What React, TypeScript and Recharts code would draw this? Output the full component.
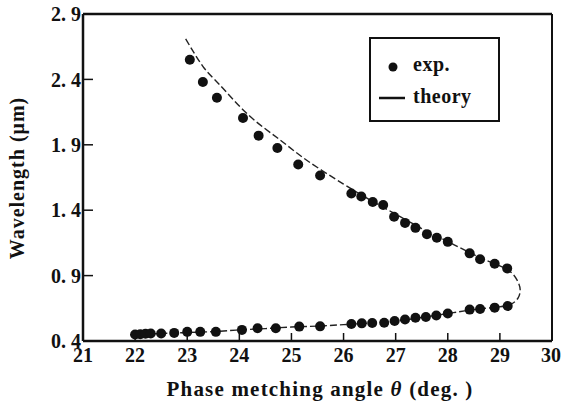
import {
  ComposedChart,
  Scatter,
  Line,
  XAxis,
  YAxis,
  ReferenceLine,
  Label,
} from "recharts";

const xTicks = [21, 22, 23, 24, 25, 26, 27, 28, 29, 30];
const yTicks = [0.4, 0.9, 1.4, 1.9, 2.4, 2.9];

// measured points, upper (idler) branch
const upperTheta = [
  23.05, 23.3, 23.57, 24.07, 24.37, 24.73, 25.13, 25.55, 26.15, 26.34, 26.56,
  26.76, 26.97, 27.18, 27.38, 27.6, 27.79, 28.0, 28.42, 28.62, 28.9, 29.14,
];
const upperWave = [
  2.55, 2.38, 2.26, 2.105, 1.97, 1.875, 1.75, 1.665, 1.527, 1.505, 1.463,
  1.44, 1.35, 1.303, 1.265, 1.217, 1.19, 1.158, 1.07, 1.025, 0.99, 0.955,
];

// measured points, lower (signal) branch
const lowerTheta = [
  22.0, 22.1, 22.2, 22.3, 22.5, 22.75, 23.0, 23.25, 23.55, 24.05, 24.35, 24.7,
  25.15, 25.55, 26.15, 26.35, 26.55, 26.78, 26.98, 27.18, 27.38, 27.58, 27.78,
  28.0, 28.42, 28.62, 28.9, 29.15,
];
const lowerWave = [
  0.45, 0.452, 0.455, 0.457, 0.458, 0.462, 0.47, 0.47, 0.47, 0.485, 0.497,
  0.497, 0.51, 0.512, 0.53, 0.535, 0.537, 0.54, 0.553, 0.565, 0.578, 0.583,
  0.595, 0.61, 0.64, 0.645, 0.655, 0.667,
];

// theory curve, traced from the top end round the turning point
const theoryTheta = [
  22.97, 23.3, 23.62, 24.17, 24.74, 25.3, 26.0, 26.5, 27.0, 27.5, 28.0, 28.5,
  28.9, 29.2, 29.35, 29.39, 29.35, 29.2, 28.9, 28.5, 28.0, 27.5, 27.0, 26.5,
  26.0, 25.5, 25.0, 24.5, 24.0, 23.5, 23.0, 22.5, 22.0, 21.85,
];
const theoryWave = [
  2.71, 2.5, 2.36, 2.13, 1.95, 1.78, 1.6, 1.48, 1.37, 1.26, 1.16, 1.06, 0.99,
  0.93, 0.85, 0.79, 0.73, 0.68, 0.657, 0.64, 0.61, 0.58, 0.553, 0.537, 0.525,
  0.514, 0.507, 0.495, 0.485, 0.472, 0.465, 0.457, 0.449, 0.445,
];

const expData = [
  ...upperTheta.map((x, i) => ({ x, y: upperWave[i] })),
  ...lowerTheta.map((x, i) => ({ x, y: lowerWave[i] })),
];
const theoryData = theoryTheta.map((x, i) => ({ x, y: theoryWave[i] }));

const FONT = "'Liberation Serif', 'DejaVu Serif', serif";
const tickStyle = { fill: "#111", fontSize: 20, fontFamily: FONT, fontWeight: 700 };

const LegendBox = () => (
  <div
    style={{
      position: "absolute",
      left: 369,
      top: 37,
      width: 127,
      height: 81,
      border: "2px solid #111",
      fontFamily: FONT,
      fontSize: 20,
      fontWeight: 700,
      color: "#111",
      letterSpacing: 0.5,
    }}
  >
    <svg width={30} height={70} style={{ position: "absolute", left: 6, top: 8 }}>
      <circle cx={16} cy={20} r={4.5} fill="#111" />
      <line x1={2} x2={28} y1={51} y2={51} stroke="#111" strokeWidth={2.5} />
    </svg>
    <span style={{ position: "absolute", left: 42, top: 14 }}>exp.</span>
    <span style={{ position: "absolute", left: 42, top: 46 }}>theory</span>
  </div>
);

export default function App() {
  return (
    <div style={{ position: "fixed", left: 0, top: 0, width: 561, height: 404, background: "#fff" }}>
      <ComposedChart
        width={561}
        height={404}
        margin={{ top: 14, right: 9, bottom: 33, left: 42 }}
      >
        <XAxis
          type="number"
          dataKey="x"
          domain={[21, 30]}
          ticks={xTicks}
          height={30}
          tickSize={-8}
          tickMargin={15}
          tick={tickStyle}
          axisLine={{ stroke: "#111", strokeWidth: 2.5 }}
          tickLine={{ stroke: "#111", strokeWidth: 1.5 }}
          allowDataOverflow
        >
          <Label
            content={() => (
              <text
                x={320}
                y={396}
                textAnchor="middle"
                fontFamily={FONT}
                fontSize={21}
                fontWeight={700}
                letterSpacing={1.2}
                fill="#111"
              >
                Phase metching angle <tspan fontStyle="italic">θ</tspan> (deg. )
              </text>
            )}
          />
        </XAxis>
        <YAxis
          type="number"
          dataKey="y"
          domain={[0.4, 2.9]}
          ticks={yTicks}
          width={41}
          tickSize={-10}
          tickMargin={12}
          tick={tickStyle}
          tickFormatter={(v: number) => v.toFixed(1).replace(".", ". ")}
          axisLine={{ stroke: "#111", strokeWidth: 2.5 }}
          tickLine={{ stroke: "#111", strokeWidth: 1.5 }}
          allowDataOverflow
        >
          <Label
            content={() => (
              <text
                x={0}
                y={0}
                transform="translate(24 178) rotate(-90)"
                textAnchor="middle"
                fontFamily={FONT}
                fontSize={20}
                fontWeight={700}
                letterSpacing={1}
                fill="#111"
              >
                Wavelength (μm)
              </text>
            )}
          />
        </YAxis>
        <ReferenceLine y={2.9} stroke="#111" strokeWidth={2.5} />
        <ReferenceLine x={30} stroke="#111" strokeWidth={2} />
        <Line
          data={theoryData}
          dataKey="y"
          type="natural"
          stroke="#222"
          strokeWidth={1.4}
          strokeDasharray="7 3"
          dot={false}
          isAnimationActive={false}
        />
        <Scatter
          data={expData}
          dataKey="y"
          fill="#111"
          shape={(p: any) => <circle cx={p.cx} cy={p.cy} r={5} fill="#111" />}
          isAnimationActive={false}
        />
      </ComposedChart>
      <LegendBox />
    </div>
  );
}
